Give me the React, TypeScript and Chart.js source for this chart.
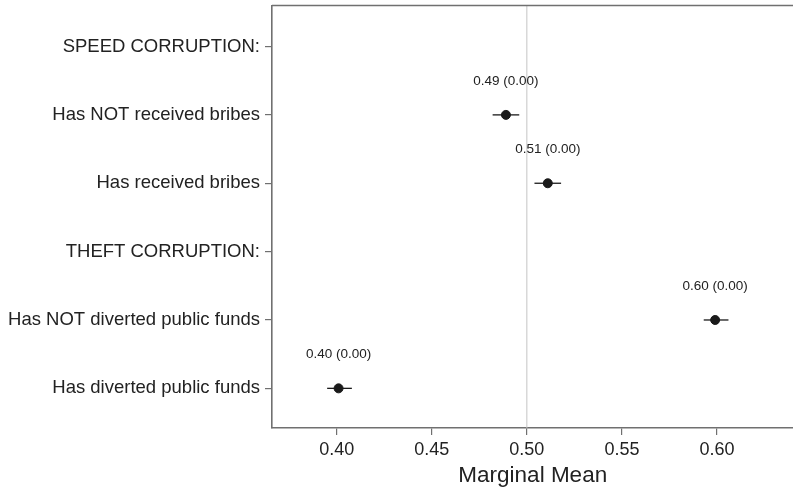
import React, { useEffect, useRef } from "react";
import { Chart, registerables } from "chart.js";
Chart.register(...registerables);

const categories = [
  "SPEED CORRUPTION:",
  "Has NOT received bribes",
  "Has received bribes",
  "THEFT CORRUPTION:",
  "Has NOT diverted public funds",
  "Has diverted public funds",
];
const means: (number | null)[] = [null, 0.489, 0.511, null, 0.599, 0.401];
const ciLow: (number | null)[] = [null, 0.482, 0.504, null, 0.593, 0.395];
const ciHigh: (number | null)[] = [null, 0.496, 0.518, null, 0.606, 0.408];
const seLabels: (string | null)[] = [null, "0.00", "0.00", null, "0.00", "0.00"];
const xTicks = [0.4, 0.45, 0.5, 0.55, 0.6];
const refLine = 0.5;
const xMin = 0.366;
const xMax = 0.6402;
const yMin = -0.6;
const yMax = 5.58;

const FONT = "'Liberation Sans', Arial, Helvetica, sans-serif";
const AXIS_GRAY = "#707070";
const TEXT = "#222222";

const overlay = {
  id: "overlay",
  beforeDatasetsDraw(chart: any) {
    const { ctx, chartArea, scales } = chart;
    const x = scales.x;
    const y = scales.y;
    ctx.save();
    const px = x.getPixelForValue(refLine);
    ctx.strokeStyle = "#c4c4c4";
    ctx.lineWidth = 1;
    ctx.beginPath();
    ctx.moveTo(px, chartArea.top);
    ctx.lineTo(px, chartArea.bottom);
    ctx.stroke();
    ctx.strokeStyle = "#1a1a1a";
    ctx.lineWidth = 1.3;
    means.forEach((m, i) => {
      if (m == null) return;
      const py = y.getPixelForValue(i);
      ctx.beginPath();
      ctx.moveTo(x.getPixelForValue(ciLow[i] as number), py);
      ctx.lineTo(x.getPixelForValue(ciHigh[i] as number), py);
      ctx.stroke();
    });
    ctx.restore();
  },
  afterDraw(chart: any) {
    const { ctx, chartArea, scales } = chart;
    const x = scales.x;
    const y = scales.y;
    ctx.save();
    ctx.strokeStyle = AXIS_GRAY;
    ctx.lineWidth = 1.6;
    ctx.beginPath();
    ctx.moveTo(chartArea.left, chartArea.top);
    ctx.lineTo(chartArea.right + 20, chartArea.top);
    ctx.stroke();
    ctx.fillStyle = TEXT;
    ctx.font = `13.5px ${FONT}`;
    ctx.textAlign = "center";
    ctx.textBaseline = "middle";
    means.forEach((m, i) => {
      if (m == null) return;
      const label = `${m.toFixed(2)} (${seLabels[i]})`;
      ctx.fillText(label, x.getPixelForValue(m), y.getPixelForValue(i) - 34);
    });
    ctx.restore();
  },
};

export default function App() {
  const ref = useRef<HTMLCanvasElement>(null);
  useEffect(() => {
    const points = means
      .map((m, i) => (m == null ? null : { x: m, y: i }))
      .filter((p) => p !== null) as { x: number; y: number }[];
    const chart = new Chart(ref.current as HTMLCanvasElement, {
      type: "scatter",
      data: {
        datasets: [
          {
            data: points,
            backgroundColor: "#1a1a1a",
            borderColor: "#1a1a1a",
            pointRadius: 4.5,
            pointHoverRadius: 4.5,
          },
        ],
      },
      options: {
        animation: false,
        responsive: true,
        maintainAspectRatio: false,
        layout: { padding: { top: 5, right: 0, bottom: 0, left: 0 } },
        plugins: { legend: { display: false }, tooltip: { enabled: false } },
        scales: {
          x: {
            type: "linear",
            min: xMin,
            max: xMax,
            afterBuildTicks: (s: any) => {
              s.ticks = xTicks.map((v) => ({ value: v }));
            },
            afterFit: (s: any) => {
              s.height = 61;
            },
            ticks: {
              callback: (v: any) => Number(v).toFixed(2),
              font: { family: FONT, size: 18 },
              color: TEXT,
              padding: 4,
              maxRotation: 0,
            },
            grid: {
              display: true,
              drawOnChartArea: false,
              drawTicks: true,
              tickLength: 7,
              color: AXIS_GRAY,
              lineWidth: 1.2,
            },
            border: { display: true, color: AXIS_GRAY, width: 1.6 },
            title: {
              display: true,
              text: "Marginal Mean",
              font: { family: FONT, size: 22.5 },
              color: TEXT,
              padding: { top: 0, bottom: 0 },
            },
          },
          y: {
            type: "linear",
            min: yMin,
            max: yMax,
            reverse: true,
            afterBuildTicks: (s: any) => {
              s.ticks = categories.map((_, i) => ({ value: i }));
            },
            afterFit: (s: any) => {
              s.width = 272;
              s.paddingTop = 0;
              s.paddingBottom = 0;
            },
            ticks: {
              callback: (v: any) => categories[Number(v)] ?? "",
              font: { family: FONT, size: 18.5 },
              color: TEXT,
              padding: 5,
            },
            grid: {
              display: true,
              drawOnChartArea: false,
              drawTicks: true,
              tickLength: 7,
              color: AXIS_GRAY,
              lineWidth: 1.2,
            },
            border: { display: true, color: AXIS_GRAY, width: 1.6 },
          },
        },
      },
      plugins: [overlay],
    });
    return () => chart.destroy();
  }, []);
  return (
    <div style={{ position: "fixed", left: 0, top: 0, width: 793, height: 489, overflow: "hidden", background: "#fff" }}>
      <div style={{ position: "absolute", left: 0, top: 0, width: 799, height: 489 }}>
        <canvas ref={ref} />
      </div>
    </div>
  );
}
